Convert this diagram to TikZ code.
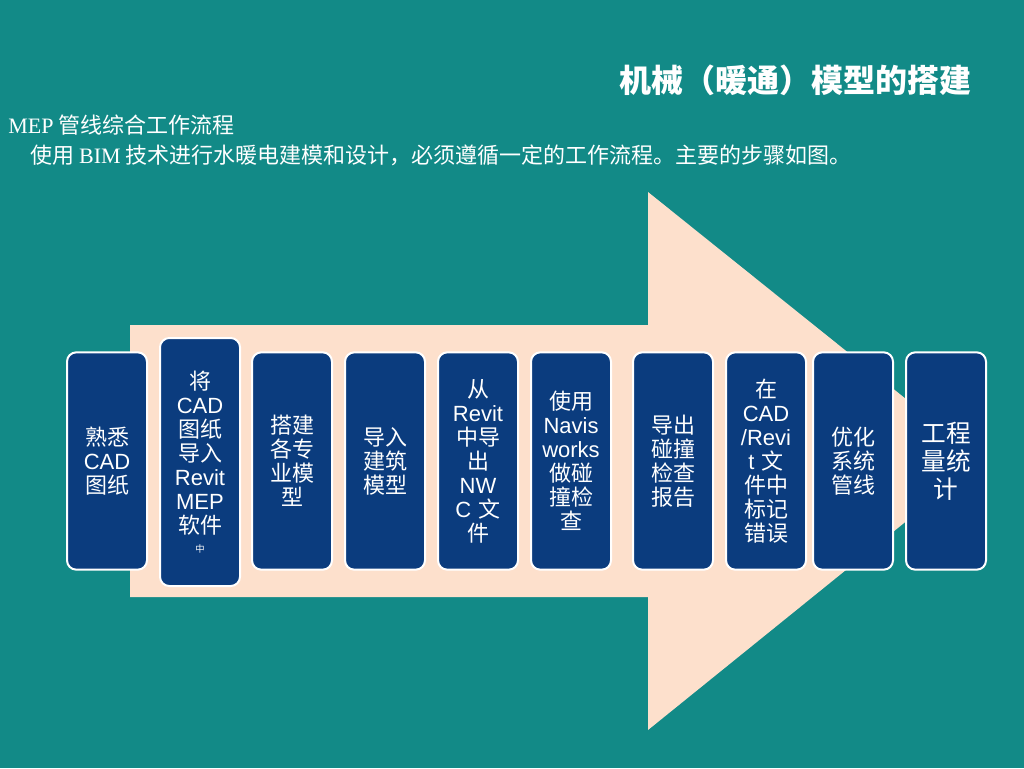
\documentclass[tikz,border=0pt]{standalone}
\usepackage{fontspec}
\setmainfont{Liberation Serif}
\newfontfamily\cjk{Noto Sans CJK SC}
\newfontfamily\lat{Liberation Sans}
\usetikzlibrary{positioning}
\definecolor{bgteal}{HTML}{128A87}
\definecolor{peach}{HTML}{FDE0CC}
\definecolor{stepblue}{HTML}{0B3C7E}
\tikzset{
  stepbox/.style={draw=white,line width=1.5pt,fill=stepblue,rounded corners=7pt,
    minimum width=60pt,minimum height=163pt,text width=56pt,align=center,
    text=white,font=\cjk\fontsize{16.5}{18}\selectfont,inner sep=1pt},
  tallbox/.style={stepbox,minimum height=186pt}
}
\begin{document}
\begin{tikzpicture}[x=0.75pt,y=-0.75pt]
  % background
  \fill[bgteal] (0,0) rectangle (1024,768);
  \useasboundingbox (0,0) rectangle (1024,768);
  % arrow
  \fill[peach] (130,325) -- (648,325) -- (648,192) -- (982,460) -- (648,730) -- (648,597) -- (130,597) -- cycle;
  % titles
  \node[anchor=east,text=white,font=\cjk\bfseries\fontsize{24}{28}\selectfont] (title) at (976,80) {机械（暖通）模型的搭建};
  \node[anchor=west,text=white,font=\cjk\fontsize{16.5}{18}\selectfont,inner sep=0pt] (sub) at (8,125) {{\rmfamily MEP} 管线综合工作流程};
  \node[anchor=west,text=white,font=\cjk\fontsize{16.5}{18}\selectfont,inner sep=0pt] (intro) at (30,155) {使用 {\rmfamily BIM} 技术进行水暖电建模和设计，必须遵循一定的工作流程。主要的步骤如图。};
  % steps
  \node[stepbox] (s1) at (107,461) {熟悉\\{\lat CAD}\\图纸};
  \node[tallbox] (s2) at (200,462) {将\\{\lat CAD}\\图纸\\导入\\{\lat Revit}\\{\lat MEP}\\软件\\[-4pt]{\fontsize{7}{8}\selectfont 中}};
  \node[stepbox] (s3) at (292,461) {搭建\\各专\\业模\\型};
  \node[stepbox] (s4) at (385,461) {导入\\建筑\\模型};
  \node[stepbox] (s5) at (478,461) {从\\{\lat Revit}\\中导\\出\\{\lat NW}\\{\lat C} 文\\件};
  \node[stepbox] (s6) at (571,461) {使用\\{\lat Navis}\\{\lat works}\\做碰\\撞检\\查};
  \node[stepbox] (s7) at (673,461) {导出\\碰撞\\检查\\报告};
  \node[stepbox] (s8) at (766,461) {在\\{\lat CAD}\\{\lat /Revi}\\{\lat t} 文\\件中\\标记\\错误};
  \node[stepbox] (s9) at (853,461) {优化\\系统\\管线};
  \node[stepbox,font=\cjk\fontsize{18.5}{21}\selectfont] (s10) at (946,461) {工程\\量统\\计};
\end{tikzpicture}
\end{document}
